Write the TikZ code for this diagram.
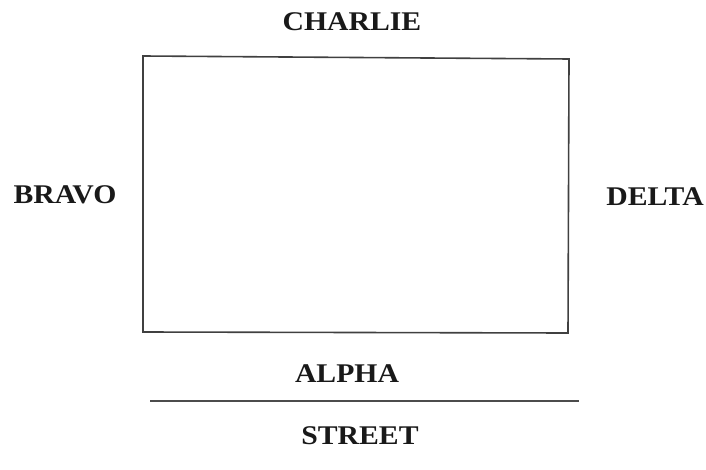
\documentclass[tikz,border=0pt]{standalone}
\usepackage{fontspec}
\setmainfont{Liberation Serif}
\begin{document}
\begin{tikzpicture}[x=1pt,y=-1pt,
  lbl/.style={font=\bfseries\fontsize{27}{30}\selectfont, text=black!90, inner sep=0pt, xscale=1.1, transform shape},
  edge/.style={draw=black!75, line width=1.6pt}]
\useasboundingbox (0,0) rectangle (706,470);
\coordinate (tl) at (143,56);
\coordinate (tr) at (569,59);
\coordinate (br) at (568,333);
\coordinate (bl) at (143,332);
\draw[edge, line join=miter] (tl) -- (tr) -- (br) -- (bl) -- cycle;
\coordinate (sl) at (150,401);
\coordinate (sr) at (579,401);
\draw[draw=black!70, line width=1.2pt] (sl) -- (sr);
\node[lbl] (charlie) at (352,22) {CHARLIE};
\node[lbl] (bravo) at (65,195) {BRAVO};
\node[lbl] (delta) at (655,197) {DELTA};
\node[lbl] (alpha) at (347,374) {ALPHA};
\node[lbl] (street) at (360,436) {STREET};
\end{tikzpicture}
\end{document}
